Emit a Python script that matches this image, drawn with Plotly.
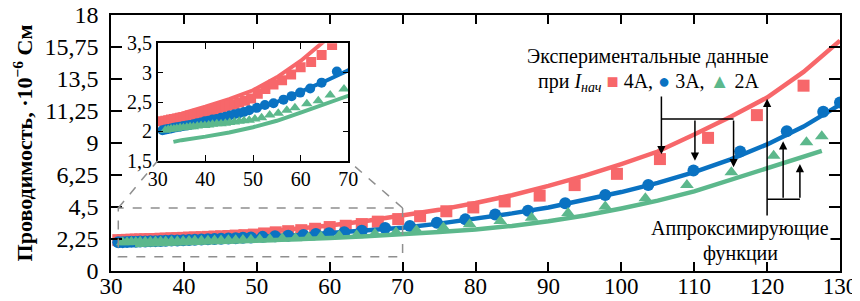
import plotly.graph_objects as go

# ---------------- data ----------------
# Experimental points, I_нач = 4 A
x_4a = [31.0, 31.6, 32.2, 32.8, 33.4, 34.0, 34.7, 35.4, 36.1, 36.8, 37.5, 38.3, 39.1, 39.9,
        40.7, 41.5, 42.4, 43.3, 44.2, 45.1, 46.1, 47.1, 48.3, 49.6, 51.0, 52.6, 54.3, 56.1,
        58.0, 60.0, 62.2, 64.4, 66.6, 69.4, 72.4, 76.0, 79.7, 84.0, 88.8, 93.6, 99.4, 105.3,
        111.9, 118.6, 125.0]
y_4a = [2.17, 2.18, 2.19, 2.20, 2.21, 2.22, 2.23, 2.24, 2.25, 2.27, 2.28, 2.30, 2.31, 2.33,
        2.35, 2.36, 2.38, 2.40, 2.42, 2.44, 2.46, 2.49, 2.52, 2.56, 2.64, 2.72, 2.80, 2.87,
        2.97, 3.09, 3.18, 3.30, 3.47, 3.65, 3.85, 4.20, 4.47, 4.89, 5.30, 6.04, 6.83, 7.87,
        9.36, 10.96, 13.03]
# Experimental points, I_нач = 3 A
x_3a = [31.0, 31.6, 32.2, 32.8, 33.4, 34.0, 34.7, 35.4, 36.1, 36.8, 37.5, 38.3, 39.1, 39.9,
        40.7, 41.5, 42.4, 43.3, 44.2, 45.1, 46.1, 47.1, 48.1, 49.2, 50.8, 52.5, 54.3, 56.4,
        58.1, 59.9, 62.0, 64.4, 67.6, 71.0, 74.7, 78.6, 82.7, 87.2, 92.3, 97.8, 103.7, 109.9,
        116.3, 122.7, 127.7, 130.0]
y_3a = [2.02, 2.03, 2.04, 2.05, 2.06, 2.07, 2.08, 2.09, 2.10, 2.11, 2.12, 2.14, 2.15, 2.17,
        2.18, 2.20, 2.21, 2.23, 2.25, 2.27, 2.29, 2.31, 2.33, 2.36, 2.40, 2.45, 2.48, 2.54,
        2.60, 2.66, 2.73, 2.83, 3.02, 3.17, 3.39, 3.63, 3.97, 4.24, 4.77, 5.35, 6.04, 7.07,
        8.40, 9.82, 11.20, 11.85]
# Experimental points, I_нач = 2 A
x_2a = [31.6, 32.2, 32.8, 33.4, 34.0, 34.7, 35.4, 36.1, 36.8, 37.5, 38.3, 39.1, 39.9, 40.7,
        41.5, 42.4, 43.3, 44.2, 45.1, 46.1, 47.1, 48.1, 49.2, 50.4, 51.8, 53.5, 55.3, 57.1,
        58.8, 61.3, 63.7, 66.2, 69.1, 71.9, 75.6, 79.2, 83.4, 87.7, 92.7, 97.8, 103.3, 109.0,
        115.1, 120.9, 125.4, 127.5]
y_2a = [2.02, 2.03, 2.04, 2.04, 2.05, 2.06, 2.06, 2.07, 2.08, 2.08, 2.09, 2.10, 2.10, 2.11,
        2.12, 2.13, 2.13, 2.14, 2.15, 2.16, 2.17, 2.18, 2.19, 2.21, 2.23, 2.28, 2.31, 2.36,
        2.40, 2.47, 2.52, 2.62, 2.72, 2.86, 3.05, 3.28, 3.51, 3.74, 4.08, 4.54, 5.11, 6.04,
        6.95, 8.10, 9.05, 9.48]

# Approximating functions
fx_4a = [31, 35, 40, 45, 50, 55, 60, 65, 70, 75, 80, 85, 90, 95, 100, 105, 110, 115, 120, 125, 130]
fy_4a = [2.22, 2.30, 2.42, 2.55, 2.70, 2.92, 3.20, 3.52, 3.88, 4.30, 4.78, 5.33, 5.98, 6.70,
         7.52, 8.40, 9.60, 10.85, 12.20, 14.00, 16.20]
fx_3a = [31, 35, 40, 45, 50, 55, 60, 65, 70, 75, 80, 85, 90, 95, 100, 105, 110, 115, 120, 125, 130]
fy_3a = [2.03, 2.10, 2.18, 2.26, 2.36, 2.50, 2.67, 2.85, 3.04, 3.33, 3.68, 4.05, 4.47, 4.98,
         5.55, 6.20, 6.95, 7.85, 8.90, 10.15, 11.70]
fx_2a = [33.3, 35, 40, 45, 50, 55, 60, 65, 70, 75, 80, 85, 90, 95, 100, 105, 110, 115, 120, 125, 127.5]
fy_2a = [1.82, 1.85, 1.91, 1.98, 2.07, 2.18, 2.32, 2.45, 2.58, 2.75, 2.92, 3.17, 3.50, 3.90,
         4.40, 4.95, 5.60, 6.40, 7.25, 8.00, 8.44]

y_tickvals = [0, 2.25, 4.5, 6.75, 9, 11.25, 13.5, 15.75, 18]
y_ticktext = ["0", "2,25", "4,5", "6,25", "9", "11,25", "13,5", "15,75", "18"]
x_tickvals = [30, 40, 50, 60, 70, 80, 90, 100, 110, 120, 130]

# ---------------- style ----------------
RED = "#F7676A"
BLUE = "#0A72C2"
GREEN = "#5CB88C"
FONT = "Liberation Serif"

series = [
    (x_4a, y_4a, fx_4a, fy_4a, RED, "square"),
    (x_3a, y_3a, fx_3a, fy_3a, BLUE, "circle"),
    (x_2a, y_2a, fx_2a, fy_2a, GREEN, "triangle-up"),
]

fig = go.Figure()
for xa, ya, msize, lw in (("x", "y", 12, 4.5), ("x2", "y2", 10, 4.0)):
    for px, py, lx, ly, col, sym in series:
        fig.add_trace(go.Scatter(x=lx, y=ly, mode="lines", line=dict(color=col, width=lw),
                                 xaxis=xa, yaxis=ya, showlegend=False, hoverinfo="skip"))
        fig.add_trace(go.Scatter(x=px, y=py, mode="markers",
                                 marker=dict(color=col, symbol=sym, size=msize, line=dict(width=0)),
                                 xaxis=xa, yaxis=ya, showlegend=False))

X0, X1, Y0, Y1 = 30, 130, 0, 18

# the page body adds an 8px offset; figure is sized so it ends at the window edge
FIG_W, FIG_H = 852, 293
M_L, M_R, M_T, M_B = 103, 20, 7, 30
plot_h = FIG_H - M_T - M_B
plot_w = FIG_W - M_L - M_R
OFF = 8

def py2y(py):
    # window pixel row -> main y data value
    return Y1 - (py - OFF - M_T) / plot_h * (Y1 - Y0)

def px2x(px):
    return X0 + (px - OFF - M_L) / plot_w * (X1 - X0)

# inset box (window pixels) -> paper domain
ins_dx = [(157.7 - OFF - M_L) / plot_w, (348.3 - OFF - M_L) / plot_w]
ins_dy = [(FIG_H - M_B - (160.7 - OFF)) / plot_h, (FIG_H - M_B - (43.3 - OFF)) / plot_h]

axis_common = dict(showgrid=False, zeroline=False, showline=True, linecolor="black",
                   linewidth=1.5, mirror="ticks", ticks="inside", tickcolor="black",
                   automargin=False, ticklabeloverflow="allow")

fig.update_layout(
    width=FIG_W, height=FIG_H,
    margin=dict(l=M_L, r=M_R, t=M_T, b=M_B),
    paper_bgcolor="white", plot_bgcolor="white",
    separators=", ",
    font=dict(family=FONT, size=21, color="black"),
    xaxis=dict(range=[X0, X1], tickvals=x_tickvals, ticklen=9, tickwidth=1.5,
               tickfont=dict(family=FONT, size=23), ticklabelstandoff=-6, **axis_common),
    yaxis=dict(range=[Y0, Y1], tickvals=y_tickvals, ticktext=y_ticktext, ticklen=11,
               tickwidth=1.5, tickfont=dict(family=FONT, size=24), ticklabelstandoff=6,
               title=dict(text="<b>Проводимость, ·10<sup>−6</sup> См</b>",
                          font=dict(family=FONT, size=22), standoff=6),
               **axis_common),
    xaxis2=dict(domain=ins_dx, anchor="y2", range=[30, 70], dtick=10, ticklen=6,
                tickwidth=1.2, tickfont=dict(family=FONT, size=20), **axis_common),
    yaxis2=dict(domain=ins_dy, anchor="x2", range=[1.5, 3.5], dtick=0.5, ticklen=6,
                tickwidth=1.2, tickfont=dict(family=FONT, size=20), **axis_common),
)

# zoom rectangle and connectors (dashed)
rx0, rx1, ry0, ry1 = 31, 70, 1.0, 4.43
ix0 = X0 + ins_dx[0] * (X1 - X0)
ix1 = X0 + ins_dx[1] * (X1 - X0)
iy0 = Y0 + ins_dy[0] * (Y1 - Y0)
dash = dict(color="#8f8f8f", width=1.5, dash="dash")
shapes = [
    dict(type="rect", xref="x", yref="y", x0=rx0, x1=rx1, y0=ry0, y1=ry1, line=dash),
    dict(type="line", xref="x", yref="y", x0=rx0, y0=ry1, x1=ix0, y1=iy0, line=dash),
    dict(type="line", xref="x", yref="y", x0=rx1, y0=ry1, x1=ix1, y1=iy0, line=dash),
]
blk = dict(color="black", width=1.5)
top_bar = py2y(119)
bot_bar = py2y(199.3)
shapes += [
    dict(type="line", xref="x", yref="y", x0=105.5, x1=115.4, y0=top_bar, y1=top_bar, line=blk),
    dict(type="line", xref="x", yref="y", x0=120.0, x1=124.5, y0=bot_bar, y1=bot_bar, line=blk),
]
fig.update_layout(shapes=shapes)

anns = []
def arrow(x, y_tail, y_tip):
    anns.append(dict(x=x, y=y_tip, ax=x, ay=y_tail, xref="x", yref="y", axref="x", ayref="y",
                     text="", showarrow=True, arrowhead=2, arrowsize=1.1, arrowwidth=1.5,
                     arrowcolor="black", standoff=0, startstandoff=0))

arrow(105.5, py2y(95), 8.21)
arrow(110.1, top_bar, 7.76)
arrow(115.4, top_bar, 7.30)
arrow(120.0, py2y(220), 12.11)
arrow(122.2, bot_bar, 9.13)
arrow(124.5, bot_bar, 7.52)

anns.append(dict(x=px2x(648), y=py2y(56), xref="x", yref="y", showarrow=False,
                 text="Экспериментальные данные", font=dict(family=FONT, size=20)))
anns.append(dict(x=px2x(648), y=py2y(82.5), xref="x", yref="y", showarrow=False,
                 text=("при <i>I</i><sub><i>нач</i></sub> "
                       f"<span style='color:{RED}'>■</span> 4А, "
                       f"<span style='color:{BLUE}'>●</span> 3А, "
                       f"<span style='color:{GREEN}'>▲</span> 2А"),
                 font=dict(family=FONT, size=20)))
anns.append(dict(x=px2x(740), y=py2y(228.3), xref="x", yref="y", showarrow=False,
                 text="Аппроксимирующие", font=dict(family=FONT, size=20), bgcolor="white"))
anns.append(dict(x=px2x(740), y=py2y(253.3), xref="x", yref="y", showarrow=False,
                 text="функции", font=dict(family=FONT, size=20)))
fig.update_layout(annotations=anns)

fig.write_html("out.html")
